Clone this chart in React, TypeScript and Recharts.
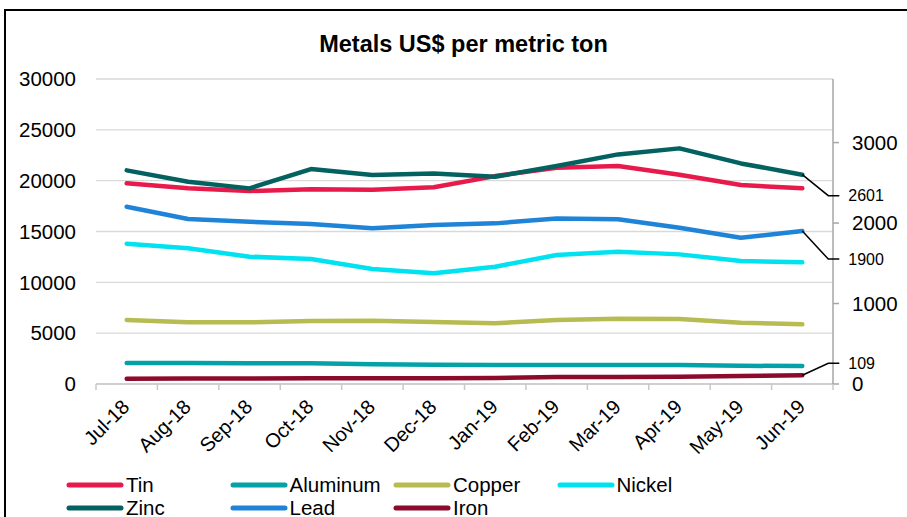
import { LineChart, Line, XAxis, YAxis, CartesianGrid } from 'recharts'

const months = ['Jul-18','Aug-18','Sep-18','Oct-18','Nov-18','Dec-18','Jan-19','Feb-19','Mar-19','Apr-19','May-19','Jun-19']

// left axis series
const tin = [19740, 19250, 18980, 19150, 19110, 19350, 20450, 21280, 21440, 20590, 19570, 19250]
const aluminum = [2065, 2060, 2030, 2030, 1935, 1900, 1870, 1870, 1870, 1870, 1790, 1770]
const copper = [6295, 6065, 6065, 6200, 6230, 6100, 5970, 6295, 6425, 6400, 6030, 5870]
const nickel = [13800, 13350, 12520, 12300, 11310, 10890, 11540, 12690, 13020, 12750, 12100, 11970]

// right axis series
const zinc = [2655, 2513, 2431, 2671, 2596, 2617, 2575, 2708, 2853, 2928, 2741, 2601]
const lead = [2203, 2050, 2016, 1988, 1934, 1975, 1996, 2058, 2046, 1942, 1818, 1900]
const iron = [65, 67, 69, 72, 73, 70, 76, 88, 86, 90, 100, 109]

const leftTicks = [0, 5000, 10000, 15000, 20000, 25000, 30000]
const rightTicks = [0, 1000, 2000, 3000]

const data = months.map((m, i) => ({
  month: m, Tin: tin[i], Aluminum: aluminum[i], Copper: copper[i], Nickel: nickel[i],
  Zinc: zinc[i], Lead: lead[i], Iron: iron[i],
}))

const FONT = "'Liberation Sans', Arial, sans-serif"
const HALF_BAND = 30.7

const series = [
  { key: 'Tin', color: '#e8194b', axis: 'left' },
  { key: 'Aluminum', color: '#02a2a8', axis: 'left' },
  { key: 'Copper', color: '#b8bb52', axis: 'left' },
  { key: 'Nickel', color: '#00e2f0', axis: 'left' },
  { key: 'Zinc', color: '#03625f', axis: 'right' },
  { key: 'Lead', color: '#1f84d8', axis: 'right' },
  { key: 'Iron', color: '#8c0b2d', axis: 'right' },
]

const callouts: Record<string, number> = { Zinc: 21, Lead: 28, Iron: -12 }

function makeCallout(dy: number) {
  return (props: any) => {
    const { x, y, index, value } = props
    if (index !== months.length - 1) return null
    return (
      <g>
        <polyline points={`${x},${y} ${x + 26},${y + dy} ${x + 37},${y + dy}`} fill="none" stroke="#000" strokeWidth={1.5} />
        <text x={x + 46} y={y + dy} dy="0.36em" fontSize={16} fontFamily={FONT} fill="#000">{value}</text>
      </g>
    )
  }
}

function XTick(props: any) {
  const { x, y, payload, index } = props
  const half = payload?.offset || HALF_BAND
  return (
    <g>
      <line x1={x - half} x2={x - half} y1={y} y2={y + 6} stroke="#c8c8c8" strokeWidth={1.5} />
      {index === months.length - 1 && <line x1={x + half} x2={x + half} y1={y} y2={y + 6} stroke="#c8c8c8" strokeWidth={1.5} />}
      <text x={x + 4} y={y + 24} transform={`rotate(-45, ${x + 4}, ${y + 24})`} textAnchor="end"
        fontSize={20} fontFamily={FONT} fill="#000">{payload.value}</text>
    </g>
  )
}

export default function App() {
  const axisTick = { fill: '#000', fontSize: 20.5, fontFamily: FONT }
  return (
    <div style={{ position: 'absolute', left: 0, top: 0, width: 907, height: 517, overflow: 'hidden', background: '#fff' }}>
      <div style={{ position: 'absolute', left: 4, top: 9, width: 1000, height: 1000, borderLeft: '2px solid #000', borderTop: '2px solid #000' }} />
      <div style={{ position: 'absolute', left: 0, width: 927, top: 31, textAlign: 'center', fontFamily: FONT, fontWeight: 'bold', fontSize: 23.5, color: '#000' }}>
        Metals US$ per metric ton
      </div>
      <div style={{ position: 'absolute', left: 0, top: 0 }}>
        <LineChart width={907} height={517} data={data} margin={{ top: 79, right: 0, bottom: 73, left: 0 }}>
          <CartesianGrid yAxisId="left" vertical={false} stroke="#d9d9d9" strokeWidth={1.3} />
          <XAxis dataKey="month" interval={0} height={60} tickSize={0} tickMargin={0} tickLine={false}
            padding={{ left: HALF_BAND, right: HALF_BAND }}
            axisLine={{ stroke: '#c8c8c8', strokeWidth: 1.5 }} tick={<XTick />} />
          <YAxis yAxisId="left" width={96} domain={[0, 30000]} ticks={leftTicks} axisLine={false} tickLine={false}
            tickSize={0} tickMargin={20} tick={axisTick} />
          <YAxis yAxisId="right" orientation="right" width={74} domain={[0, 3790]} ticks={rightTicks}
            axisLine={{ stroke: '#a6a6a6', strokeWidth: 1.5 }} tickLine={{ stroke: '#a6a6a6', strokeWidth: 1.5 }}
            tickSize={6} tickMargin={13} tick={axisTick} />
          {series.map(s => (
            <Line key={s.key} yAxisId={s.axis} type="linear" dataKey={s.key} stroke={s.color} strokeWidth={4.5}
              strokeLinecap="round" strokeLinejoin="round" dot={false} isAnimationActive={false}
              label={callouts[s.key] !== undefined ? makeCallout(callouts[s.key]) : undefined} />
          ))}
        </LineChart>
      </div>
      {series.map((s, i) => {
        const col = i % 4
        const row = Math.floor(i / 4)
        return (
          <div key={s.key} style={{ position: 'absolute', left: 64 + col * 163.5, top: 473 + row * 23, height: 24, display: 'flex', alignItems: 'center', fontFamily: FONT, fontSize: 20.5, color: '#000' }}>
            <svg width={62} height={10}><line x1={5} x2={57} y1={5} y2={5} stroke={s.color} strokeWidth={5} strokeLinecap="round" /></svg>
            <span>{s.key}</span>
          </div>
        )
      })}
    </div>
  )
}
